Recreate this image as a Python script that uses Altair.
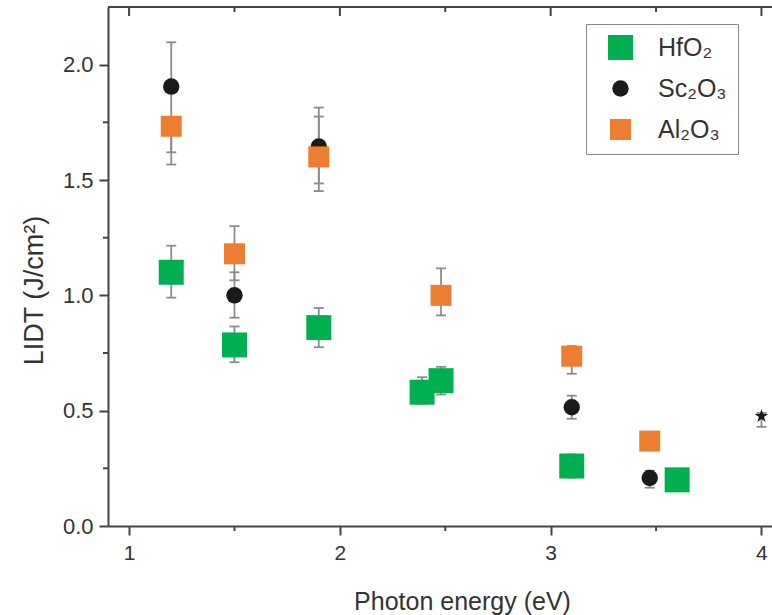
import altair as alt
import pandas as pd

# ---- data ----
materials = ["HfO₂", "Sc₂O₃", "Al₂O₃"]
colors = ["#00b050", "#1a1a1a", "#ed7d31"]
shapes = ["square", "circle", "square"]
sizes = [625, 270, 441]

hf_x = [1.2, 1.5, 1.9, 2.39, 2.48, 3.1, 3.6]
hf_y = [1.10, 0.785, 0.86, 0.58, 0.63, 0.26, 0.20]
hf_lo = [0.99, 0.71, 0.775, 0.53, 0.57, 0.21, 0.17]
hf_hi = [1.215, 0.865, 0.945, 0.645, 0.69, 0.31, 0.23]

sc_x = [1.2, 1.5, 1.9, 3.1, 3.47]
sc_y = [1.905, 1.0, 1.645, 0.515, 0.208]
sc_lo = [1.567, 0.903, 1.452, 0.465, 0.166]
sc_hi = [2.097, 1.10, 1.814, 0.565, 0.24]

al_x = [1.2, 1.5, 1.9, 2.48, 3.1, 3.47]
al_y = [1.733, 1.18, 1.60, 1.0, 0.736, 0.368]
al_lo = [1.62, 1.065, 1.485, 0.913, 0.66, 0.34]
al_hi = [1.76, 1.30, 1.775, 1.117, 0.78, 0.39]

star_x = [4.0]
star_y = [0.476]
star_lo = [0.43]
star_hi = [0.49]

x_major = [1, 2, 3, 4]
x_minor = [1.5, 2.5, 3.5]
y_major = [0, 0.5, 1.0, 1.5, 2.0]
y_minor = [0.25, 0.75, 1.25, 1.75]

STAR_PATH = ("M0,-1L0.225,-0.309L0.951,-0.309L0.363,0.118L0.588,0.809L0,0.382"
             "L-0.588,0.809L-0.363,0.118L-0.951,-0.309L-0.225,-0.309Z")

rows = []
for m, xs, ys, los, his in [
    (materials[0], hf_x, hf_y, hf_lo, hf_hi),
    (materials[1], sc_x, sc_y, sc_lo, sc_hi),
    (materials[2], al_x, al_y, al_lo, al_hi),
]:
    for x, y, lo, hi in zip(xs, ys, los, his):
        rows.append({"material": m, "energy": x, "lidt": y, "lo": lo, "hi": hi})
df = pd.DataFrame(rows)
star_df = pd.DataFrame({"energy": star_x, "lidt": star_y, "lo": star_lo, "hi": star_hi})
err_df = pd.concat([df.drop(columns=["material"]), star_df], ignore_index=True)
xmajor_df = pd.DataFrame({"energy": x_major})
xminor_df = pd.DataFrame({"energy": x_minor})
yminor_df = pd.DataFrame({"lidt": y_minor})

FONT = "Liberation Sans"
AXC = "#444444"
ERRC = "#8c8c8c"
W, H = 664, 519

xscale = alt.Scale(domain=[0.9, 4.05], nice=False, zero=False)
yscale = alt.Scale(domain=[0, 2.25], nice=False, zero=True)

x_axis = alt.Axis(
    orient="bottom", values=x_major, tickSize=9, format="d",
    labelFontSize=21, labelPadding=7, labelColor="#333333",
    title="Photon energy (eV)", titleFontSize=25, titleFontWeight="normal",
    titleColor="#333333", titleX=354, titleY=83, titleBaseline="alphabetic",
    domainColor=AXC, domainWidth=2, tickColor=AXC, tickWidth=2, grid=False,
)
y_axis = alt.Axis(
    orient="left", values=y_major, tickSize=9, format=".1f",
    labelFontSize=22, labelPadding=6, labelColor="#333333",
    title="LIDT (J/cm²)", titleFontSize=27, titleFontWeight="normal",
    titleColor="#333333", titleAngle=270, titleX=-66, titleY=283,
    titleBaseline="alphabetic",
    domainColor=AXC, domainWidth=2, tickColor=AXC, tickWidth=2, grid=False,
)

X = alt.X("energy:Q", scale=xscale, axis=x_axis)

# error bars
rules = alt.Chart(err_df).mark_rule(color=ERRC, strokeWidth=1.8).encode(
    x=X,
    y=alt.Y("lo:Q", scale=yscale, axis=y_axis),
    y2="hi:Q",
)
caps_lo = alt.Chart(err_df).mark_tick(color=ERRC, orient="horizontal", size=10, thickness=1.8, opacity=1).encode(
    x=X, y=alt.Y("lo:Q", scale=yscale, axis=y_axis),
)
caps_hi = alt.Chart(err_df).mark_tick(color=ERRC, orient="horizontal", size=10, thickness=1.8, opacity=1).encode(
    x=X, y=alt.Y("hi:Q", scale=yscale, axis=y_axis),
)

legend = alt.Legend(
    title=None, orient="none", legendX=478, legendY=17,
    padding=11, symbolOffset=11, labelOffset=25, rowPadding=15,
    labelFontSize=25, labelFont=FONT, labelColor="#333333",
    strokeColor="#888888", fillColor="#ffffff", symbolStrokeWidth=0,
)

points = alt.Chart(df).mark_point(filled=True, opacity=1).encode(
    x=X,
    y=alt.Y("lidt:Q", scale=yscale, axis=y_axis),
    color=alt.Color("material:N", scale=alt.Scale(domain=materials, range=colors), legend=legend),
    shape=alt.Shape("material:N", scale=alt.Scale(domain=materials, range=shapes), legend=legend),
    size=alt.Size("material:N", scale=alt.Scale(type="ordinal", domain=materials, range=sizes), legend=legend),
)

star = alt.Chart(star_df).mark_point(filled=True, opacity=1, shape=STAR_PATH, size=200, color="#1a1a1a").encode(
    x=X,
    y=alt.Y("lidt:Q", scale=yscale, axis=y_axis),
)

# frame decoration: top line with inward ticks, minor ticks on both axes
top_line = alt.Chart(xmajor_df).mark_rule(color=AXC, strokeWidth=2).encode(
    x=alt.value(0), x2=alt.value(W), y=alt.value(0),
)
top_major = alt.Chart(xmajor_df).mark_rule(color=AXC, strokeWidth=2).encode(
    x=X, y=alt.value(0), y2=alt.value(9),
)
top_minor = alt.Chart(xminor_df).mark_rule(color=AXC, strokeWidth=2).encode(
    x=X, y=alt.value(0), y2=alt.value(5),
)
bottom_minor = alt.Chart(xminor_df).mark_rule(color=AXC, strokeWidth=2).encode(
    x=X, y=alt.value(H), y2=alt.value(H + 5),
)
left_minor = alt.Chart(yminor_df).mark_rule(color=AXC, strokeWidth=2).encode(
    y=alt.Y("lidt:Q", scale=yscale, axis=y_axis), x=alt.value(-5), x2=alt.value(0),
)

chart = alt.layer(
    top_line, top_major, top_minor, bottom_minor, left_minor,
    rules, caps_lo, caps_hi, points, star
).properties(
    width=W, height=H,
    padding={"left": 108, "top": 7, "right": 0, "bottom": 89},
    autosize=alt.AutoSizeParams(type="none"),
    background="#ffffff",
).configure(font=FONT).configure_view(stroke=None)

chart.save("out.html", embed_options={"renderer": "svg", "actions": False})
